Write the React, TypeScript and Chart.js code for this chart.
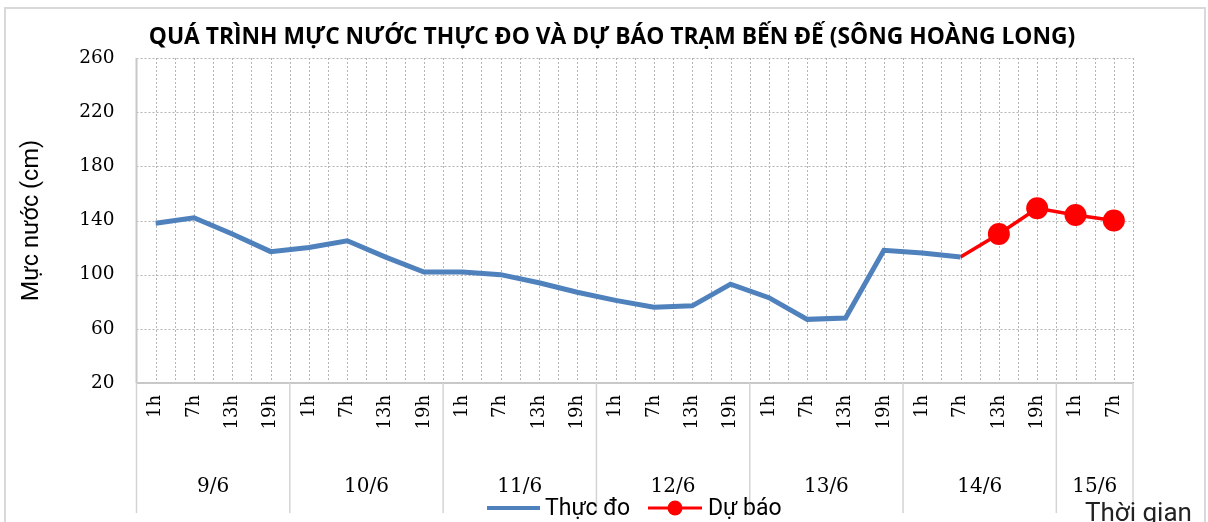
import React, { useEffect, useRef } from "react";
import { Chart, registerables } from "chart.js";

Chart.register(...registerables);

const TITLE = "QUÁ TRÌNH MỰC NƯỚC THỰC ĐO VÀ DỰ BÁO TRẠM BẾN ĐẾ (SÔNG HOÀNG LONG)";
const Y_TITLE = "Mực nước (cm)";
const X_TITLE = "Thời gian";

const hourLabels = [
  "1h", "7h", "13h", "19h",
  "1h", "7h", "13h", "19h",
  "1h", "7h", "13h", "19h",
  "1h", "7h", "13h", "19h",
  "1h", "7h", "13h", "19h",
  "1h", "7h", "13h", "19h",
  "1h", "7h",
];
const dayLabels = ["9/6", "10/6", "11/6", "12/6", "13/6", "14/6", "15/6"];
const daySpans = [4, 4, 4, 4, 4, 4, 2];

const observedLabel = "Thực đo";
const forecastLabel = "Dự báo";
const observed = [
  138, 142, 130, 117,
  120, 125, 113, 102,
  102, 100, 94, 87,
  81, 76, 77, 93,
  83, 67, 68, 118,
  116, 113, null, null,
  null, null,
];
const forecast = [
  null, null, null, null,
  null, null, null, null,
  null, null, null, null,
  null, null, null, null,
  null, null, null, null,
  null, 113, 130, 149,
  144, 140,
];
const forecastRadius = [
  0, 0, 0, 0, 0, 0, 0, 0, 0, 0, 0, 0, 0, 0, 0, 0, 0, 0, 0, 0,
  0, 0, 11, 11, 11, 11,
];
const yTicks = [20, 60, 100, 140, 180, 220, 260];

const BLUE = "#4f81bd";
const RED = "#ff0000";
const SANS = "Roboto, 'Noto Sans', sans-serif";
const TITLE_FONT = "'Open Sans', 'Noto Sans', sans-serif";
const SERIF = "'DejaVu Serif', serif";

const decorPlugin = {
  id: "decor",
  beforeDraw(chart: any) {
    const { ctx, width, height } = chart;
    ctx.save();
    ctx.fillStyle = "#ffffff";
    ctx.fillRect(0, 0, width, height);
    ctx.strokeStyle = "#d9d9d9";
    ctx.lineWidth = 2;
    ctx.strokeRect(5, 8, 1200, 560);
    // title
    ctx.fillStyle = "#000000";
    ctx.font = `bold 22.8px ${TITLE_FONT}`;
    ctx.textAlign = "center";
    ctx.textBaseline = "middle";
    ctx.fillText(TITLE, 612, 38);
    ctx.restore();
  },
  beforeDatasetsDraw(chart: any) {
    const { ctx, chartArea: a, scales } = chart;
    const x = scales.x;
    const y = scales.y;
    ctx.save();
    ctx.lineWidth = 1;
    ctx.strokeStyle = "#b4b4b4";
    ctx.setLineDash([2, 2]);
    const seg = (x1: number, y1: number, x2: number, y2: number) => {
      ctx.beginPath();
      ctx.moveTo(x1, y1);
      ctx.lineTo(x2, y2);
      ctx.stroke();
    };
    for (const v of yTicks) {
      if (v === yTicks[0]) continue;
      const py = Math.round(y.getPixelForValue(v)) + 0.5;
      seg(a.left, py, a.right, py);
    }
    const step = x.getPixelForValue(1) - x.getPixelForValue(0);
    for (let i = 0; i < hourLabels.length; i++) {
      const c = Math.round(x.getPixelForValue(i)) + 0.5;
      seg(c, a.top, c, a.bottom);
      const b = Math.round(x.getPixelForValue(i) + step / 2) + 0.5;
      seg(b, a.top, b, a.bottom);
    }
    ctx.setLineDash([]);
    ctx.strokeStyle = "#c8c8c8";
    ctx.lineWidth = 2;
    seg(a.left, a.top, a.left, a.bottom);
    seg(a.left, a.bottom, a.right, a.bottom);
    ctx.restore();
  },
  afterDraw(chart: any) {
    const { ctx, chartArea: a, scales } = chart;
    const x = scales.x;
    const step = x.getPixelForValue(1) - x.getPixelForValue(0);
    ctx.save();
    // day separators and labels
    ctx.strokeStyle = "#d4d4d4";
    ctx.lineWidth = 1.5;
    ctx.fillStyle = "#000000";
    ctx.font = `20px ${SERIF}`;
    ctx.textAlign = "center";
    ctx.textBaseline = "middle";
    let start = 0;
    const drawSep = (px: number) => {
      ctx.beginPath();
      ctx.moveTo(px, a.bottom);
      ctx.lineTo(px, 513);
      ctx.stroke();
    };
    drawSep(a.left);
    dayLabels.forEach((lab, k) => {
      const end = start + daySpans[k] - 1;
      const l = x.getPixelForValue(start) - step / 2;
      const r = x.getPixelForValue(end) + step / 2;
      drawSep(r);
      ctx.fillText(lab, (l + r) / 2, 487);
      start = end + 1;
    });
    // legend
    ctx.font = `23px ${SANS}`;
    ctx.textAlign = "left";
    ctx.lineCap = "butt";
    ctx.strokeStyle = BLUE;
    ctx.lineWidth = 4;
    ctx.beginPath();
    ctx.moveTo(487, 508);
    ctx.lineTo(540, 508);
    ctx.stroke();
    ctx.fillText(observedLabel, 545, 509);
    ctx.strokeStyle = RED;
    ctx.lineWidth = 3;
    ctx.beginPath();
    ctx.moveTo(648, 508);
    ctx.lineTo(702, 508);
    ctx.stroke();
    ctx.fillStyle = RED;
    ctx.beginPath();
    ctx.arc(675, 508, 7.5, 0, Math.PI * 2);
    ctx.fill();
    ctx.fillStyle = "#000000";
    ctx.fillText(forecastLabel, 708, 509);
    // x title
    ctx.font = `26px ${SANS}`;
    ctx.fillStyle = "#222222";
    ctx.fillText(X_TITLE, 1085, 514);
    ctx.restore();
  },
};

export default function App() {
  const ref = useRef<HTMLCanvasElement | null>(null);
  useEffect(() => {
    if (!ref.current) return;
    const chart = new Chart(ref.current, {
      type: "line",
      data: {
        labels: hourLabels,
        datasets: [
          {
            label: observedLabel,
            data: observed,
            borderColor: BLUE,
            backgroundColor: BLUE,
            borderWidth: 5,
            pointRadius: 0,
            tension: 0,
            spanGaps: false,
          },
          {
            label: forecastLabel,
            data: forecast,
            borderColor: RED,
            backgroundColor: RED,
            borderWidth: 3.5,
            pointRadius: forecastRadius,
            pointBackgroundColor: RED,
            pointBorderColor: RED,
            pointBorderWidth: 0,
            tension: 0,
          },
        ],
      },
      options: {
        animation: false,
        responsive: false,
        maintainAspectRatio: false,
        events: [],
        layout: { padding: { left: 14, right: 75, top: 58, bottom: 0 } },
        plugins: {
          legend: { display: false },
          title: { display: false },
          tooltip: { enabled: false },
        },
        scales: {
          x: {
            type: "category",
            offset: true,
            grid: { display: false, drawTicks: false },
            border: { display: false },
            ticks: {
              autoSkip: false,
              maxRotation: 90,
              minRotation: 90,
              padding: 12,
              color: "#000000",
              font: { family: SERIF, size: 18 },
            },
            afterFit(scale: any) {
              scale.height = 139;
            },
          },
          y: {
            min: 20,
            max: 260,
            afterBuildTicks(scale: any) {
              scale.ticks = yTicks.map((v) => ({ value: v }));
            },
            grid: { display: false, drawTicks: false },
            border: { display: false },
            ticks: {
              padding: 22,
              color: "#000000",
              font: { family: SERIF, size: 18.5 },
            },
            title: {
              display: true,
              text: Y_TITLE,
              color: "#000000",
              font: { family: SANS, size: 23.5 },
              padding: { top: 4, bottom: 0 },
            },
            afterFit(scale: any) {
              scale.width = 136.5 - 14;
            },
          },
        },
      },
      plugins: [decorPlugin],
    });
    return () => chart.destroy();
  }, []);
  return (
    <div style={{ position: "fixed", left: 0, top: 0, width: 1208, height: 522, background: "#fff" }}>
      <canvas ref={ref} width={1208} height={522} style={{ display: "block", width: 1208, height: 522 }} />
    </div>
  );
}
